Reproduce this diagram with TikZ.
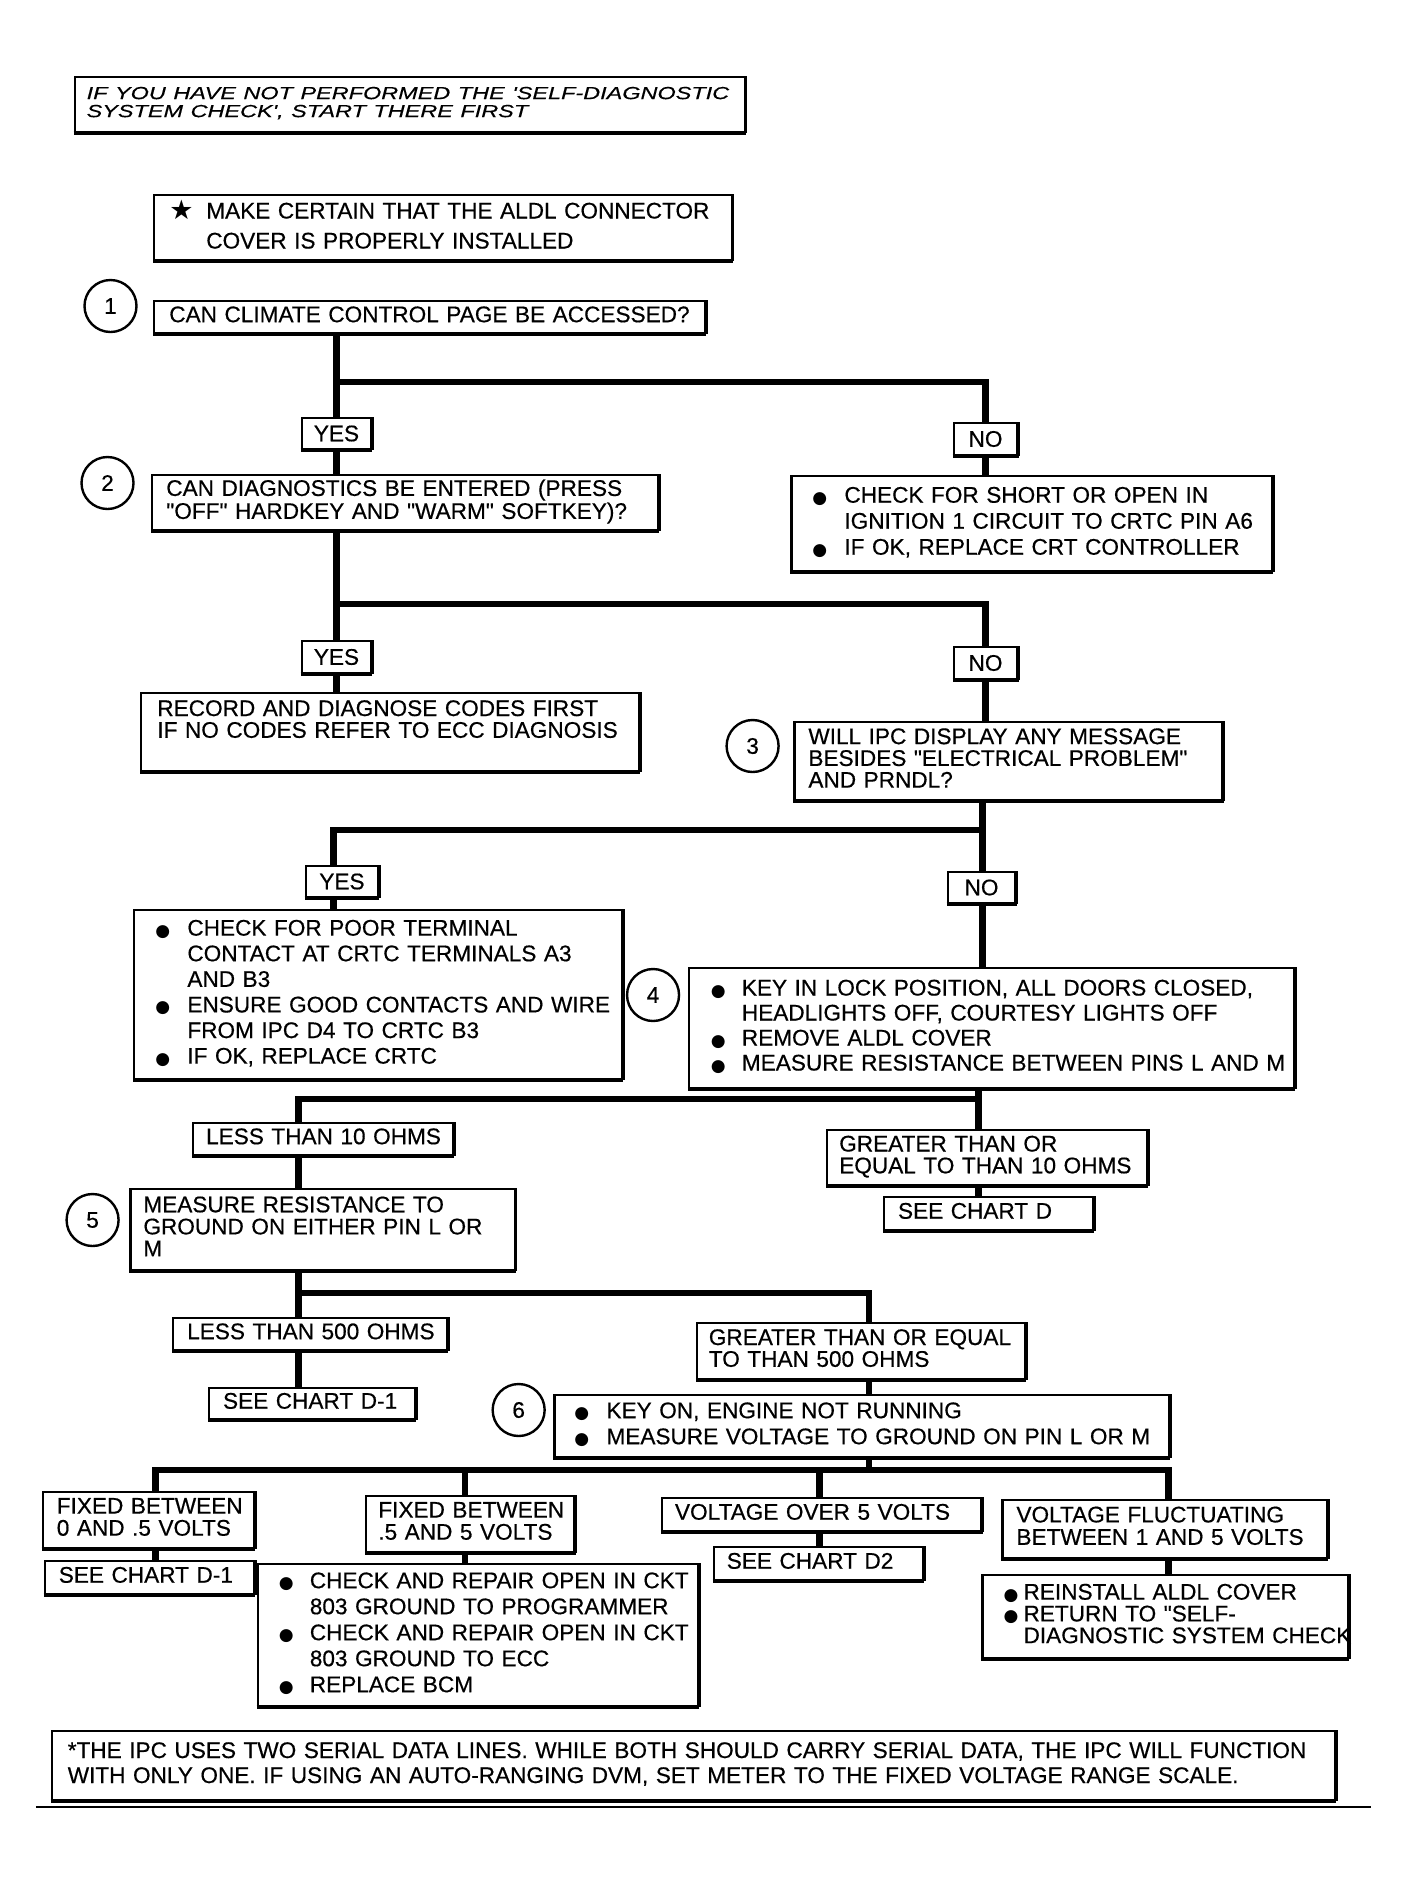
\documentclass[tikz,border=0pt]{standalone}
\usepackage{fontspec}
\setmainfont{Liberation Sans}[FakeBold=0.5]
\newfontfamily\plainf{Liberation Sans}[FakeBold=0.5]
\newfontfamily\symf{DejaVu Sans}
\newfontfamily\itf[FakeStretch=1.34,FakeBold=0.4]{Liberation Sans}
\newcommand\dq{{\plainf\symbol{34}}}
\newcommand\tlines[2]{{\fontsize{22.6}{#1}\selectfont\begin{tabular}{@{}l@{}}#2\end{tabular}}}
\newcommand\bull[1]{\makebox[#1pt][l]{\raisebox{-0.5pt}{\symf\fontsize{17}{17}\selectfont ●}}}
\newcommand\indt[1]{\hspace*{#1pt}}
\newcommand\boxn[7]{%
  \pgfmathsetmacro\bw{(#4-#2)*0.9955}\pgfmathsetmacro\bh{#5-#3}\pgfmathsetmacro\tw{(#4-#2)*0.9955-2*#6}%
  \node[bx, inner xsep=#6pt, minimum width=\bw pt, minimum height=\bh pt, text width=\tw pt] (#1) at ({(#2+#4)/2},{(#3+#5)/2}) {#7};}
\newcommand\labn[6]{%
  \pgfmathsetmacro\bw{(#4-#2)*0.9955}\pgfmathsetmacro\bh{#5-#3}%
  \node[bx, align=center, inner xsep=0pt, minimum width=\bw pt, minimum height=\bh pt] (#1) at ({(#2+#4)/2},{(#3+#5)/2}) {#6};}
\begin{document}
\begin{tikzpicture}[x=0.9955pt,y=-1pt,
  bx/.style={draw, line width=2.2pt, inner ysep=0pt, align=left, font=\fontsize{22.6}{26}\selectfont,
    append after command={(\tikzlastnode.south west) edge[line width=3.4pt] (\tikzlastnode.south east)
      (\tikzlastnode.south east) edge[line width=3.4pt] (\tikzlastnode.north east)}},
  circ/.style={draw, circle, line width=2.4pt, minimum size=52pt, inner sep=0pt, font=\fontsize{22.6}{26}\selectfont},
  conn/.style={line width=6.5pt, line join=miter}]
\useasboundingbox (0,0) rectangle (1413.4,1883);

% notes
\boxn{topnote}{75}{77}{748}{132}{12}{{\itf\itshape\fontsize{17.5}{18}\selectfont\begin{tabular}{@{}l@{}}IF YOU HAVE NOT PERFORMED THE 'SELF-DIAGNOSTIC\\SYSTEM CHECK', START THERE FIRST\end{tabular}}}
\boxn{star}{155}{195}{735}{260}{15}{\tlines{30}{\makebox[37pt][l]{\raisebox{-1pt}{\symf\fontsize{27}{27}\selectfont ★}}MAKE CERTAIN THAT THE ALDL CONNECTOR\\\indt{37}COVER IS PROPERLY INSTALLED}}

% step 1
\node[circ] (c1) at (111,306) {1};
\boxn{q1}{155}{301}{708}{333}{15}{\tlines{26}{CAN CLIMATE CONTROL PAGE BE ACCESSED?}}
\labn{yes1}{303}{418}{373}{449}{YES}
\labn{no1}{958}{423}{1022}{455}{NO}
\boxn{a1}{795}{476}{1278}{571}{21}{\tlines{26}{\bull{32}CHECK FOR SHORT OR OPEN IN\\\indt{32}IGNITION 1 CIRCUIT TO CRTC PIN A6\\\bull{32}IF OK, REPLACE CRT CONTROLLER}}

% step 2
\node[circ] (c2) at (108,483) {2};
\boxn{q2}{153}{475}{661}{530}{14}{\tlines{22}{CAN DIAGNOSTICS BE ENTERED (PRESS\\\dq OFF\dq{} HARDKEY AND \dq WARM\dq{} SOFTKEY)?}}
\labn{yes2}{303}{641}{373}{673}{YES}
\labn{no2}{958}{647}{1022}{679}{NO}
\boxn{rec}{142}{693}{642}{771}{16}{\tlines{20}{RECORD AND DIAGNOSE CODES FIRST\\IF NO CODES REFER TO ECC DIAGNOSIS\\~}}

% step 3
\node[circ] (c3) at (756,746) {3};
\boxn{q3}{798}{722}{1228}{800}{14}{\tlines{20}{WILL IPC DISPLAY ANY MESSAGE\\BESIDES \dq ELECTRICAL PROBLEM\dq\\AND PRNDL?}}
\labn{yes3}{307}{866}{380}{897}{YES}
\labn{no3}{952}{872}{1020}{903}{NO}
\boxn{a3}{135}{910}{625}{1079}{21}{\tlines{25.6}{\bull{32}CHECK FOR POOR TERMINAL\\\indt{32}CONTACT AT CRTC TERMINALS A3\\\indt{32}AND B3\\\bull{32}ENSURE GOOD CONTACTS AND WIRE\\\indt{32}FROM IPC D4 TO CRTC B3\\\bull{32}IF OK, REPLACE CRTC}}

% step 4
\node[circ] (c4) at (656,995) {4};
\boxn{b4}{692}{968}{1300}{1088}{22}{\tlines{25}{\bull{31}KEY IN LOCK POSITION, ALL DOORS CLOSED,\\\indt{31}HEADLIGHTS OFF, COURTESY LIGHTS OFF\\\bull{31}REMOVE ALDL COVER\\\bull{31}MEASURE RESISTANCE BETWEEN PINS L AND M}}
\boxn{l10}{194}{1123}{455}{1155}{13}{\tlines{26}{LESS THAN 10 OHMS}}
\boxn{g10}{831}{1130}{1152}{1185}{12}{\tlines{20}{GREATER THAN OR\\EQUAL TO THAN 10 OHMS}}
\boxn{sd}{888}{1197}{1098}{1230}{14}{\tlines{26}{SEE CHART D}}

% step 5
\node[circ] (c5) at (93,1220) {5};
\boxn{b5}{131}{1189}{517}{1270}{13}{\tlines{21}{MEASURE RESISTANCE TO\\GROUND ON EITHER PIN L OR\\M}}
\boxn{l500}{174}{1318}{449}{1350}{14}{\tlines{26}{LESS THAN 500 OHMS}}
\boxn{g500}{700}{1323}{1030}{1379}{12}{\tlines{20}{GREATER THAN OR EQUAL\\TO THAN 500 OHMS}}
\boxn{sda}{210}{1388}{417}{1419}{14}{\tlines{26}{SEE CHART D-1}}

% step 6
\node[circ] (c6) at (521,1410) {6};
\boxn{b6}{557}{1395}{1174}{1457}{20}{\tlines{26}{\bull{32}KEY ON, ENGINE NOT RUNNING\\\bull{32}MEASURE VOLTAGE TO GROUND ON PIN L OR M}}
\boxn{f0}{43}{1492}{255}{1548}{14}{\tlines{21}{FIXED BETWEEN\\0 AND .5 VOLTS}}
\boxn{f5}{368}{1496}{577}{1552}{12}{\tlines{21}{FIXED BETWEEN\\.5 AND 5 VOLTS}}
\boxn{v5}{665}{1498}{986}{1531}{13}{\tlines{26}{VOLTAGE OVER 5 VOLTS}}
\boxn{vf}{1007}{1500}{1333}{1558}{14}{\tlines{22}{VOLTAGE FLUCTUATING\\BETWEEN 1 AND 5 VOLTS}}
\boxn{sdb}{45}{1561}{255}{1594}{14}{\tlines{26}{SEE CHART D-1}}
\boxn{cr}{259}{1564}{701}{1706}{21}{\tlines{26}{\bull{31}CHECK AND REPAIR OPEN IN CKT\\\indt{31}803 GROUND TO PROGRAMMER\\\bull{31}CHECK AND REPAIR OPEN IN CKT\\\indt{31}803 GROUND TO ECC\\\bull{31}REPLACE BCM}}
\boxn{sd2}{717}{1547}{927}{1580}{13}{\tlines{26}{SEE CHART D2}}
\boxn{ri}{987}{1575}{1354}{1658}{21}{\tlines{20}{\bull{20}REINSTALL ALDL COVER\\\bull{20}RETURN TO \dq SELF-\\\indt{20}DIAGNOSTIC SYSTEM CHECK}}

% footer
\boxn{foot}{52}{1731}{1341}{1800}{16}{\tlines{25}{*THE IPC USES TWO SERIAL DATA LINES. WHILE BOTH SHOULD CARRY SERIAL DATA, THE IPC WILL FUNCTION\\WITH ONLY ONE. IF USING AN AUTO-RANGING DVM, SET METER TO THE FIXED VOLTAGE RANGE SCALE.}}
\coordinate (rl) at (36,1807); \coordinate (rr) at (1377,1807);
\draw[line width=1.5pt] (rl) -- (rr);

% junctions
\coordinate (j1) at (338,382); \coordinate (k1) at (990,382);
\coordinate (j2) at (338,604); \coordinate (k2) at (990,604);
\coordinate (j3) at (335,830); \coordinate (k3) at (987,830);
\coordinate (j4) at (300,1099); \coordinate (k4) at (983,1099);
\coordinate (j5) at (300,1293); \coordinate (k5) at (873,1293);
\coordinate (s6) at (873,1470);
\coordinate (d1) at (156,1470); \coordinate (d2) at (467,1470);
\coordinate (d3) at (823,1470); \coordinate (d4) at (1174,1470);

% connectors
\draw[conn] (q1.south -| j1) -- (yes1.north -| j1);
\draw[conn] (j1) -- (k1) -- (no1.north -| k1);
\draw[conn] (yes1.south -| j1) -- (q2.north -| j1);
\draw[conn] (no1.south -| k1) -- (a1.north -| k1);

\draw[conn] (q2.south -| j2) -- (yes2.north -| j2);
\draw[conn] (j2) -- (k2) -- (no2.north -| k2);
\draw[conn] (yes2.south -| j2) -- (rec.north -| j2);
\draw[conn] (no2.south -| k2) -- (q3.north -| k2);

\draw[conn] (q3.south -| k3) -- (no3.north -| k3);
\draw[conn] (k3) -- (j3) -- (yes3.north -| j3);
\draw[conn] (yes3.south -| j3) -- (a3.north -| j3);
\draw[conn] (no3.south -| k3) -- (b4.north -| k3);

\draw[conn] (b4.south -| k4) -- (g10.north -| k4);
\draw[conn] (k4) -- (j4) -- (l10.north -| j4);
\draw[conn] (l10.south -| j4) -- (b5.north -| j4);
\draw[conn] (g10.south -| k4) -- (sd.north -| k4);

\draw[conn] (b5.south -| j5) -- (l500.north -| j5);
\draw[conn] (j5) -- (k5) -- (g500.north -| k5);
\draw[conn] (l500.south -| j5) -- (sda.north -| j5);
\draw[conn] (g500.south -| k5) -- (b6.north -| k5);

\draw[conn] (b6.south -| s6) -- (s6);
\draw[conn] (f0.north -| d1) -- (d1) -- (d4) -- (vf.north -| d4);
\draw[conn] (d2) -- (f5.north -| d2);
\draw[conn] (d3) -- (v5.north -| d3);
\draw[conn] (f0.south -| d1) -- (sdb.north -| d1);
\draw[conn] (f5.south -| d2) -- (cr.north -| d2);
\draw[conn] (v5.south -| d3) -- (sd2.north -| d3);
\draw[conn] (vf.south -| d4) -- (ri.north -| d4);
\end{tikzpicture}
\end{document}
